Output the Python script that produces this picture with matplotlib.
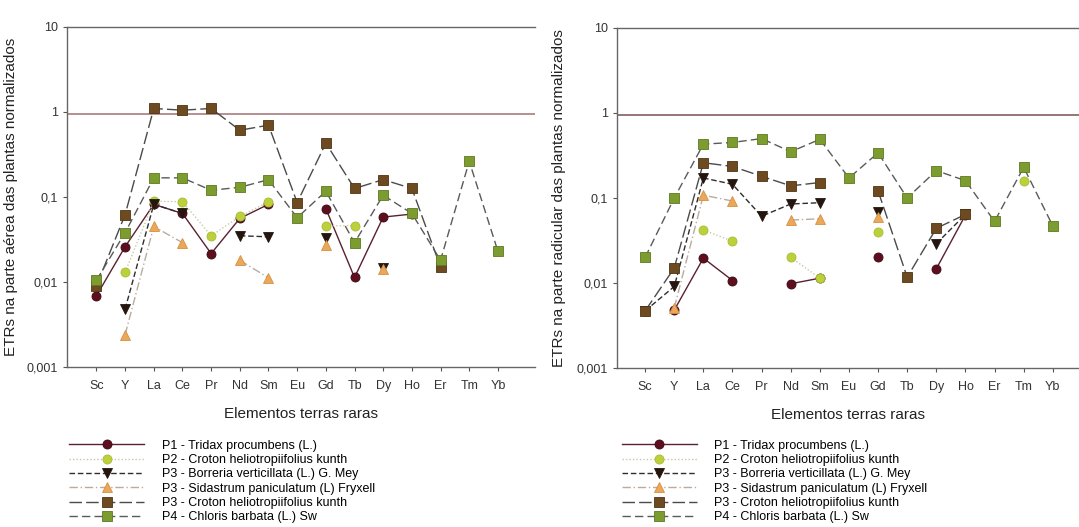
import numpy as np
import matplotlib
matplotlib.use("Agg")
import matplotlib.pyplot as plt
from matplotlib.ticker import FixedLocator, NullLocator

plt.rcParams['font.family'] = ['Liberation Sans', 'DejaVu Sans']

nan = np.nan

# Elementos terras raras (eixo x)
elements = ['Sc', 'Y', 'La', 'Ce', 'Pr', 'Nd', 'Sm', 'Eu', 'Gd', 'Tb', 'Dy', 'Ho', 'Er', 'Tm', 'Yb']

labels = ['P1 - Tridax procumbens (L.)',
          'P2 - Croton heliotropiifolius kunth',
          'P3 - Borreria verticillata (L.) G. Mey',
          'P3 - Sidastrum paniculatum (L) Fryxell',
          'P3 - Croton heliotropiifolius kunth',
          'P4 - Chloris barbata (L.) Sw']

# Parte aerea (painel da esquerda)
aerea_p1 = [0.0069, 0.026, 0.082, 0.064, 0.0216, 0.056, 0.082, nan, 0.073, 0.0113, 0.058, 0.063, nan, nan, nan]
aerea_p2 = [nan, 0.013, 0.089, 0.088, 0.035, 0.059, 0.088, nan, 0.046, 0.046, nan, nan, nan, nan, nan]
aerea_borreria = [nan, 0.0048, 0.082, 0.064, nan, 0.035, 0.034, nan, 0.033, nan, 0.0145, nan, nan, nan, nan]
aerea_sidastrum = [nan, 0.0024, 0.045, 0.029, nan, 0.018, 0.0112, nan, 0.0275, nan, 0.0142, nan, nan, nan, nan]
aerea_croton = [0.009, 0.062, 1.1, 1.05, 1.1, 0.61, 0.70, 0.086, 0.43, 0.126, 0.16, 0.126, 0.015, nan, nan]
aerea_chloris = [0.0105, 0.038, 0.168, 0.168, 0.12, 0.13, 0.16, 0.057, 0.117, 0.029, 0.105, 0.064, 0.018, 0.263, 0.023]

# Parte radicular (painel da direita)
radic_p1 = [nan, 0.0048, 0.0196, 0.0107, nan, 0.0098, 0.0114, nan, 0.020, nan, 0.0147, 0.063, nan, nan, nan]
radic_p2 = [nan, nan, 0.042, 0.031, nan, 0.020, 0.0114, nan, 0.040, nan, nan, nan, nan, 0.157, nan]
radic_borreria = [0.0047, 0.0091, 0.172, 0.145, 0.061, 0.085, 0.088, nan, 0.069, nan, 0.029, 0.064, nan, nan, nan]
radic_sidastrum = [nan, 0.0051, 0.108, 0.092, nan, 0.055, 0.057, nan, 0.060, nan, nan, nan, nan, nan, nan]
radic_croton = [0.0047, 0.015, 0.26, 0.235, 0.18, 0.139, 0.152, nan, 0.121, 0.0117, 0.044, 0.064, nan, nan, nan]
radic_chloris = [0.020, 0.10, 0.43, 0.45, 0.50, 0.35, 0.49, 0.172, 0.34, 0.10, 0.21, 0.16, 0.053, 0.23, 0.047]

aerea = [aerea_p1, aerea_p2, aerea_borreria, aerea_sidastrum, aerea_croton, aerea_chloris]
radic = [radic_p1, radic_p2, radic_borreria, radic_sidastrum, radic_croton, radic_chloris]

ref_level = 0.95

# estilo de cada serie: linha, cor da linha, marcador, cor do marcador
styles = [
    dict(ls='-', color='#5a2030', marker='o', mfc='#5e0f1e', mec='#3a0810'),
    dict(ls=(0, (1, 1.5)), color='#c8c8a8', marker='o', mfc='#bcd03c', mec='#a8bc30'),
    dict(ls=(0, (4, 2)), color='#2e2e2e', marker='v', mfc='#24160e', mec='#24160e'),
    dict(ls=(0, (6, 2, 1, 2)), color='#b8aca0', marker='^', mfc='#eaa85a', mec='#d89040'),
    dict(ls=(0, (9, 3)), color='#4a4a4a', marker='s', mfc='#6e4a20', mec='#4e3414'),
    dict(ls=(0, (6, 3)), color='#5a5a5a', marker='s', mfc='#7c9c30', mec='#5c7a20'),
]

fig = plt.figure(figsize=(10.79, 5.27), dpi=100)
ax1 = fig.add_axes([0.062, 0.3036, 0.434, 0.6452])
ax2 = fig.add_axes([0.572, 0.3017, 0.428, 0.6452])

x = np.arange(len(elements))

def draw_panel(ax, series, ylabel, ref_color, pad):
    handles = []
    for vals, st in zip(series, styles):
        h, = ax.plot(x, vals, linestyle=st['ls'], color=st['color'], lw=1,
                     marker=st['marker'], markersize=6.5, markerfacecolor=st['mfc'],
                     markeredgecolor=st['mec'], markeredgewidth=0.6)
        handles.append(h)
    ax.axhline(ref_level, color=ref_color, lw=1.1, zorder=0)
    ax.set_yscale('log')
    ax.set_ylim(0.001, 10)
    ax.yaxis.set_major_locator(FixedLocator([0.001, 0.01, 0.1, 1, 10]))
    ax.yaxis.set_minor_locator(NullLocator())
    ax.set_yticklabels(['0,001', '0,01', '0,1', '1', '10'])
    ax.set_xticks(x)
    ax.set_xticklabels(elements)
    ax.set_xlim(-1.03, 15.3)
    ax.tick_params(labelsize=9, length=3, color='#555555', labelcolor='#333333')
    ax.tick_params(axis='x', pad=6)
    ax.spines['right'].set_visible(False)
    for s in ['left', 'bottom', 'top']:
        ax.spines[s].set_color('#666666')
        ax.spines[s].set_linewidth(1)
    ax.set_xlabel('Elementos terras raras', fontsize=11, color='#222222', labelpad=11)
    ax.set_ylabel(ylabel, fontsize=11, color='#222222', labelpad=pad)
    return handles

h1 = draw_panel(ax1, aerea, 'ETRs na parte aérea das plantas normalizados', '#a07272', 6)
h2 = draw_panel(ax2, radic, 'ETRs na parte radicular das plantas normalizados', '#7a5050', 8)
ax2.set_xlim(-0.96, 14.9)

leg_kw = dict(loc='upper left', frameon=False, fontsize=9, handlelength=6.0,
              handletextpad=1.4, labelspacing=0.19, borderpad=0, borderaxespad=0)
fig.legend(h1, labels, bbox_to_anchor=(0.064, 0.166), **leg_kw)
fig.legend(h2, labels, bbox_to_anchor=(0.576, 0.166), **leg_kw)

fig.savefig('out.png', dpi=100)
